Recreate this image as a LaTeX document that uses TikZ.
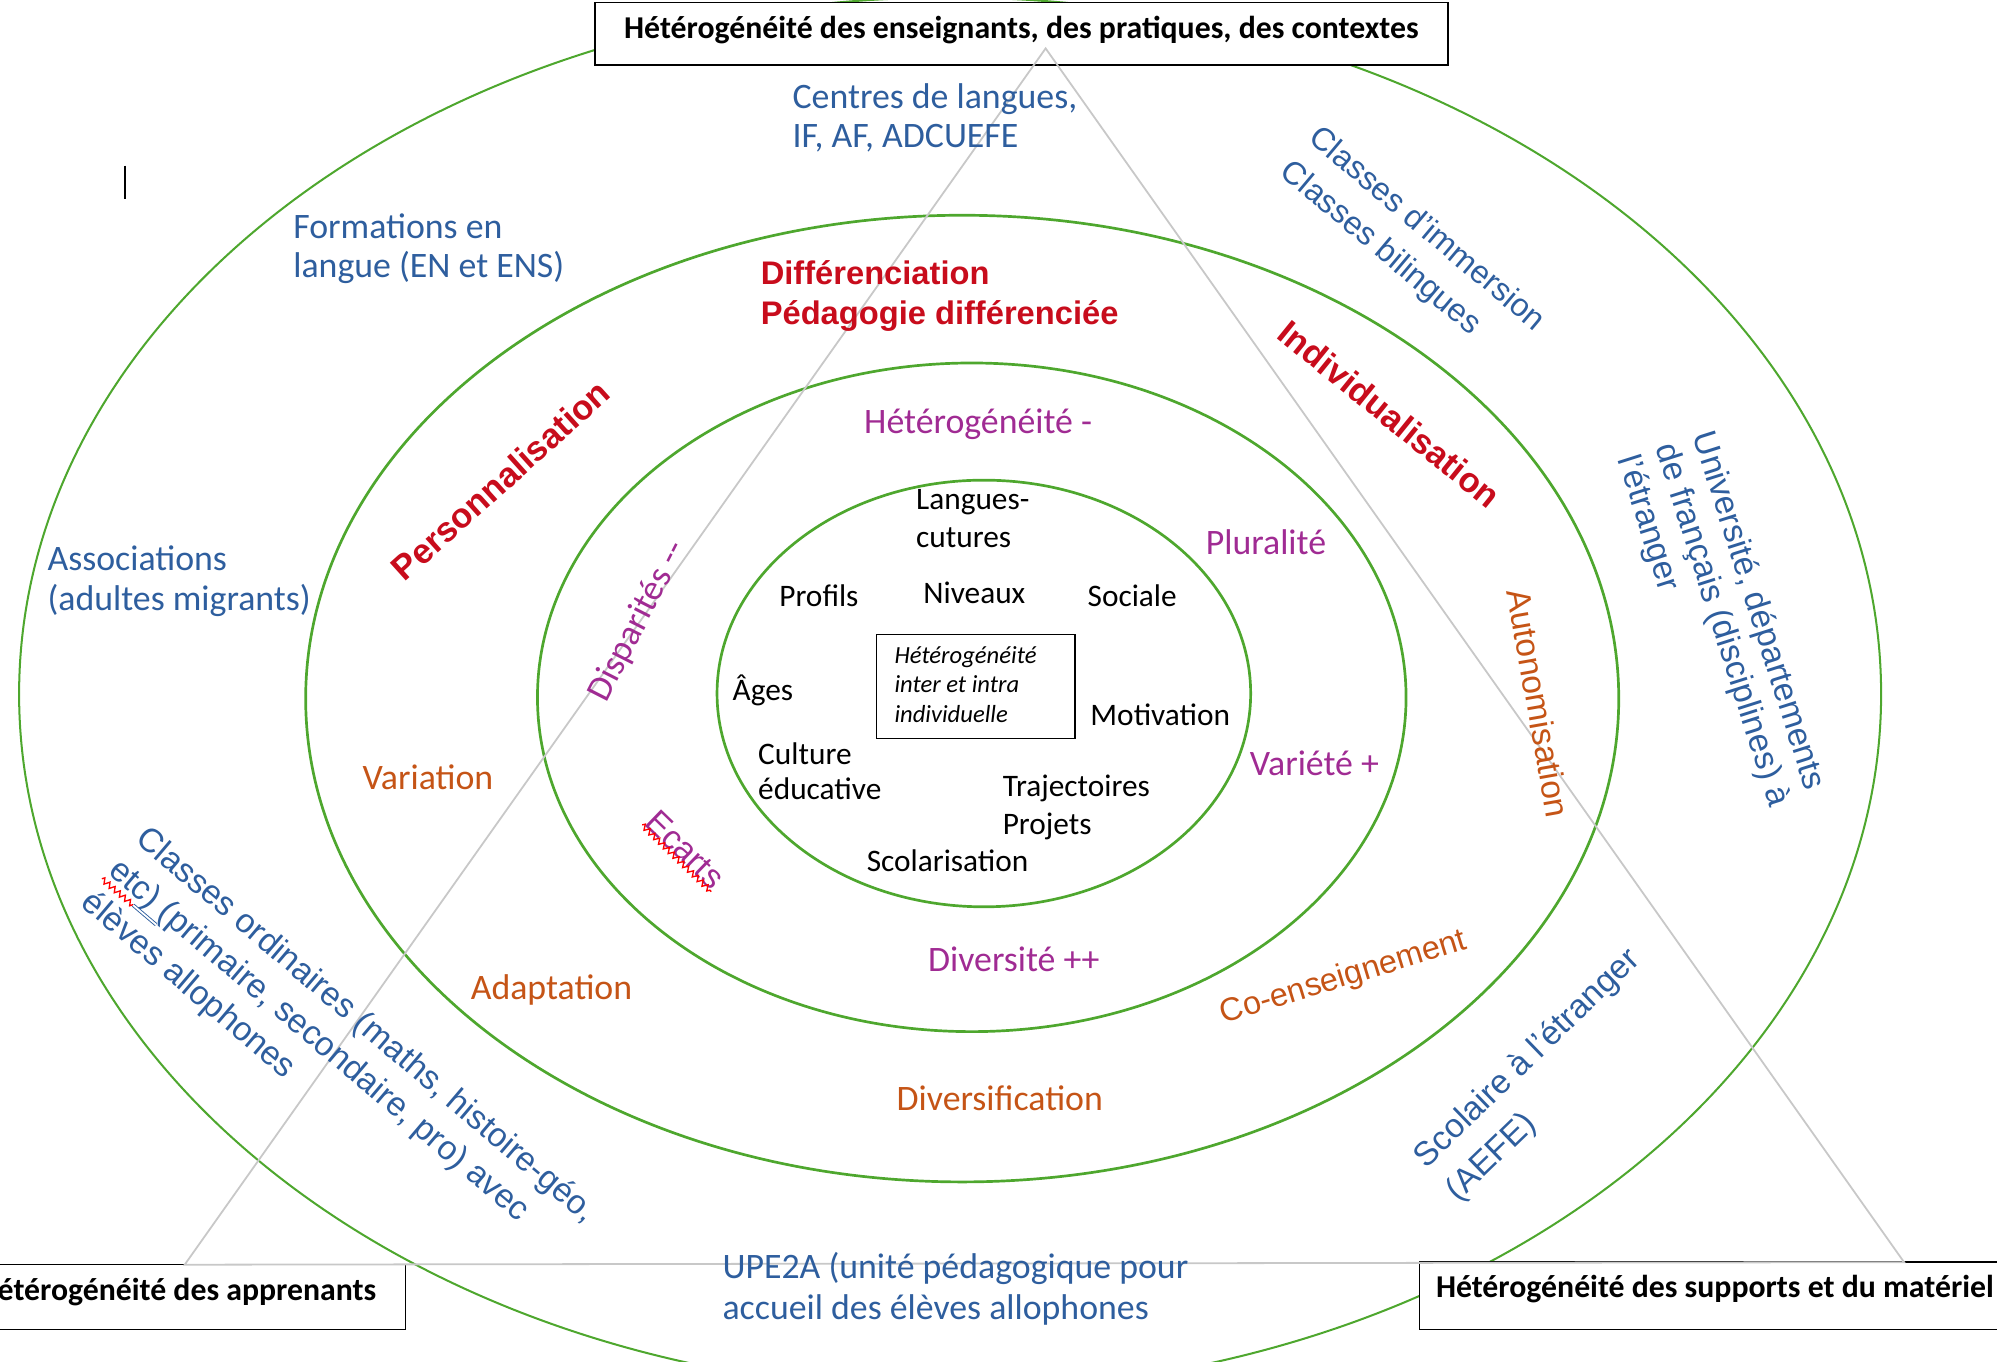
\documentclass[tikz,border=0pt]{standalone}
\usepackage{fontspec}
\setmainfont{Carlito}
\newfontfamily\arialfont{Liberation Sans}
\usetikzlibrary{decorations.pathmorphing}
\definecolor{ringgreen}{RGB}{78,167,46}
\definecolor{ringblue}{RGB}{46,94,158}
\definecolor{ringred}{RGB}{200,12,28}
\definecolor{ringorange}{RGB}{197,84,22}
\definecolor{ringpurple}{RGB}{160,43,147}
\definecolor{trigray}{RGB}{200,200,200}
\newcommand{\fsz}[2]{\fontsize{#1}{#2}\selectfont}

\begin{document}
\begin{tikzpicture}[x=0.02cm,y=-0.02cm,
    ring/.style={ringgreen, line width=1.2pt},
    tri/.style={trigray, line width=0.8pt},
    corner/.style={draw=black, fill=white, line width=0.6pt, inner ysep=0pt,
        font=\bfseries\fsz{14.2}{17}, text height=0.56cm},
    outtxt/.style={ringblue, inner sep=0pt, anchor=base west, font=\fsz{16}{17.6}},
    outrot/.style={ringblue, inner sep=0pt, anchor=north west, align=left},
    redtxt/.style={ringred, inner sep=0pt, font=\arialfont\bfseries\fsz{14.6}{18}},
    orgtxt/.style={ringorange, inner sep=0pt, anchor=base, font=\fsz{16}{18}},
    purtxt/.style={ringpurple, inner sep=0pt, anchor=base, font=\fsz{16}{18}},
    coretxt/.style={black, inner sep=0pt, anchor=base, font=\fsz{14}{17}},
    squig/.style={red, line width=0.6pt, decorate,
        decoration={zigzag, amplitude=1.2pt, segment length=3pt}}]
    \useasboundingbox (0,0) rectangle (1568,1069);
    \clip (0,0) rectangle (1568,1069);

    % rings
    \draw[ring, line width=0.9pt] (746,545) ellipse [x radius=731, y radius=547];
    \draw[ring] (755.5,548.5) ellipse [x radius=515.5, y radius=379.5];
    \draw[ring] (763,547.5) ellipse [x radius=341, y radius=262.5];
    \draw[ring] (772.5,544.5) ellipse [x radius=209.5, y radius=167.5];

    % corner boxes
    \node[corner, minimum width=13.4cm, inner xsep=0pt, text depth=0.42cm] (teach)
        at (802,26.5) {Hétérogénéité des enseignants, des pratiques, des contextes};
    \node[corner, anchor=east, inner xsep=0.46cm, text depth=0.46cm] (learn)
        at (319,1018.5) {Hétérogénéité des apprenants};
    \node[corner, anchor=west, inner xsep=0.26cm, text depth=0.5cm] (supp)
        at (1114,1017.5) {Hétérogénéité des supports et du matériel};

    % triangle
    \coordinate (apex) at (821,38);
    \coordinate (tl) at (145,993);
    \coordinate (tr) at (1495,991);
    \draw[tri] (apex) -- (tl) -- (tr) -- cycle;

    \coordinate (caret) at (98,130);
    \draw[line width=1pt] (caret) -- ++(0,26);

    % outer ring
    \node[outtxt] (cen1) at (622,85) {Centres de langues,};
    \node[outtxt] (cen2) at (622,116) {IF, AF, ADCUEFE};
    \node[outtxt] (form1) at (230,187) {Formations en};
    \node[outtxt] (form2) at (230,218) {langue (EN et ENS)};
    \node[outtxt] (asso1) at (37,448) {Associations};
    \node[outtxt] (asso2) at (37,479) {(adultes migrants)};
    \node[outtxt] (upe1) at (567,1004) {UPE2A (unité pédagogique pour};
    \node[outtxt] (upe2) at (567,1036) {accueil des élèves allophones};
    \node[outrot, rotate=-40, font=\arialfont\fsz{14.4}{19.7}] (imm) at (1038,96)
        {Classes d’immersion\\Classes bilingues};
    \node[outrot, rotate=-72.4, font=\arialfont\fsz{15}{17.6}] (univ) at (1348,336)
        {Université, départements\\de français (disciplines) à\\l’étranger};
    \node[outrot, rotate=-40.3, font=\arialfont\fsz{15}{18.8}] (ord) at (118,645.5)
        {Classes ordinaires (maths, histoire-géo,\\etc) (primaire, secondaire, pro) avec\\élèves allophones};
    \node[outrot, rotate=44, font=\arialfont\fsz{15}{20.5}] (scol) at (1106,904)
        {Scolaire à l’étranger\\(AEFE)};
    \coordinate (etc) at (80,690);
    \draw[squig] (etc) -- ++(24.5,20.7) coordinate (etcend);
    \draw[ringblue, double, double distance=0.8pt, line width=0.4pt] (etcend) -- ++(18,15.3);

    % second ring
    \node[redtxt, anchor=base west] (diff1) at (597,223) {Différenciation};
    \node[redtxt, anchor=base west] (diff2) at (597,255) {Pédagogie différenciée};
    \node[redtxt, rotate=42, font=\arialfont\bfseries\fsz{15.5}{18}] (perso) at (393,377) {Personnalisation};
    \node[redtxt, rotate=-39, font=\arialfont\bfseries\fsz{15.5}{18}] (indiv) at (1091,325) {Individualisation};
    \node[orgtxt] (vari) at (336,620) {Variation};
    \node[orgtxt] (adap) at (433,785) {Adaptation};
    \node[orgtxt] (dive) at (785,872) {Diversification};
    \node[orgtxt, anchor=center, rotate=17, font=\arialfont\fsz{14.5}{18}] (coens) at (1055,768) {Co-enseignement};
    \node[orgtxt, anchor=center, rotate=-80, font=\arialfont\fsz{15}{18}] (auto) at (1208,552) {Autonomisation};

    % third ring
    \node[purtxt] (hete) at (768,340) {Hétérogénéité -};
    \node[purtxt] (plur) at (994,435) {Pluralité};
    \node[purtxt] (vart) at (1032,609) {Variété +};
    \node[purtxt] (divt) at (796,763) {Diversité ++};
    \node[purtxt, anchor=center, rotate=63] (disp) at (501,488) {Disparités -{}-};
    \node[purtxt, anchor=center, rotate=-44, font=\arialfont\fsz{15}{18}] (ecarts) at (538,667) {Ecarts};
    \draw[squig] (ecarts.south west) -- (ecarts.south east);

    % core
    \node[coretxt, anchor=base west] (lang1) at (719,400) {Langues-};
    \node[coretxt, anchor=base west] (lang2) at (719,430) {cutures};
    \node[coretxt] (prof) at (643,476) {Profils};
    \node[coretxt] (nive) at (765,474) {Niveaux};
    \node[coretxt] (soci) at (889,476) {Sociale};
    \node[coretxt] (ages) at (599,550) {Âges};
    \node[coretxt] (moti) at (911,570) {Motivation};
    \node[coretxt, anchor=base west] (cult1) at (595,600) {Culture};
    \node[coretxt, anchor=base west] (cult2) at (595,628) {éducative};
    \node[coretxt, anchor=base west] (traj1) at (787,625) {Trajectoires};
    \node[coretxt, anchor=base west] (traj2) at (787,655) {Projets};
    \node[coretxt] (scola) at (744,684) {Scolarisation};
    \draw[line width=0.6pt] (688,498) rectangle (844,580);
    \node[coretxt, anchor=base west, font=\itshape\fsz{11}{13}] (inter1) at (702,521) {Hétérogénéité};
    \node[coretxt, anchor=base west, font=\itshape\fsz{11}{13}] (inter2) at (702,544) {inter et intra};
    \node[coretxt, anchor=base west, font=\itshape\fsz{11}{13}] (inter3) at (702,567) {individuelle};
\end{tikzpicture}
\end{document}
